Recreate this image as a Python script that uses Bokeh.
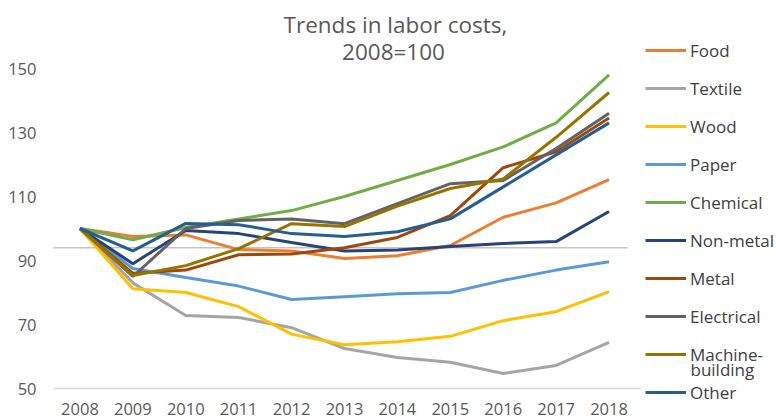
from bokeh.plotting import figure
from bokeh.models import Range1d, FixedTicker, Legend, LegendItem, Label
from bokeh.embed import file_html
from bokeh.resources import INLINE

# ---- data ----
years = [2008, 2009, 2010, 2011, 2012, 2013, 2014, 2015, 2016, 2017, 2018]
year_labels = ["2008", "2009", "2010", "2011", "2012", "2013", "2014", "2015", "2016", "2017", "2018"]
y_ticks = [50, 70, 90, 110, 130, 150]
ref_level = 94

food = [100, 97.5, 98, 93.4, 93, 90.6, 91.5, 94.7, 103.5, 108, 115.3]
textile = [100, 83, 72.8, 72.2, 69, 62.5, 59.7, 58.2, 54.7, 57.2, 64.4]
wood = [100, 81.2, 80, 75.6, 67, 63.7, 64.6, 66.3, 71.2, 74, 80.3]
paper = [100, 87.5, 84.7, 82, 77.8, 78.7, 79.6, 80, 83.8, 87, 89.6]
chemical = [100, 96.5, 100.3, 103, 105.6, 110, 115, 120, 125.5, 133, 148]
non_metal = [100, 89, 99.4, 98.4, 95.6, 93, 93.3, 94.4, 95.3, 95.9, 105.3]
metal = [100, 86, 87, 91.8, 92, 94, 97.2, 104, 119, 124, 134.5]
electrical = [100, 85, 100, 102.5, 103, 101.5, 107.8, 114, 115, 125, 136]
machine_building = [100, 85.3, 88.4, 93.7, 101.5, 100.6, 107, 112.5, 115.5, 128.5, 142.5]
other = [100, 93, 101.6, 101.2, 98.4, 97.5, 99, 103, 113, 123, 133]

series_names = ["Food", "Textile", "Wood", "Paper", "Chemical", "Non-metal",
                "Metal", "Electrical", "Machine-", "Other"]
series_values = [food, textile, wood, paper, chemical, non_metal,
                 metal, electrical, machine_building, other]
series_colors = ["#ED7D31", "#A5A5A5", "#FFC000", "#5B9BD5", "#70AD47", "#264478",
                 "#9E480E", "#636363", "#997300", "#255E91"]

FONT = "Open Sans"
TXT = "#595959"
LEG_TXT = "#404040"

# ---- layout (pixels) ----
W, H = 776, 418
LEFT = 53
AXIS_Y = 388          # pixel row of the value 50 baseline
px_per_year = 582 / len(years)
px_per_unit = 3.2
frame_w = W - LEFT

x_start = years[0] - 0.5
x_end = x_start + frame_w / px_per_year
y_start = y_ticks[0] - (H - AXIS_Y) / px_per_unit
y_end = y_ticks[0] + AXIS_Y / px_per_unit

p = figure(width=W, height=H, output_backend="svg", toolbar_location=None,
           x_range=Range1d(x_start, x_end), y_range=Range1d(y_start, y_end),
           min_border_left=LEFT, min_border_right=0, min_border_top=0,
           min_border_bottom=0)
p.title.visible = False
p.xgrid.visible = False
p.ygrid.visible = False
p.outline_line_color = None

p.yaxis.ticker = FixedTicker(ticks=y_ticks)
p.yaxis.axis_line_color = None
p.yaxis.major_tick_line_color = None
p.yaxis.minor_tick_line_color = None
p.yaxis.major_tick_out = 0
p.yaxis.major_tick_in = 0
p.yaxis.major_label_standoff = 17
p.yaxis.major_label_text_font = FONT
p.yaxis.major_label_text_font_size = "16.5px"
p.yaxis.major_label_text_color = TXT

p.xaxis.fixed_location = y_ticks[0]
p.xaxis.ticker = FixedTicker(ticks=years)
p.xaxis.major_label_overrides = {y: s for y, s in zip(years, year_labels)}
p.xaxis.axis_line_color = None
p.xaxis.major_tick_line_color = None
p.xaxis.minor_tick_line_color = None
p.xaxis.major_tick_out = 0
p.xaxis.major_tick_in = 0
p.xaxis.major_label_standoff = 14
p.xaxis.major_label_text_font = FONT
p.xaxis.major_label_text_font_size = "16.5px"
p.xaxis.major_label_text_color = TXT

# bottom axis line and the horizontal reference line
p.segment(x0=[years[0] - 0.52], y0=[y_ticks[0]], x1=[years[-1] + 0.6], y1=[y_ticks[0]],
          line_color="#D9D9D9", line_width=1.5)
p.segment(x0=[years[0] - 0.53], y0=[ref_level], x1=[years[-1] + 0.35], y1=[ref_level],
          line_color="#C4C4C4", line_width=1.5)

items = []
for name, vals, col in zip(series_names, series_values, series_colors):
    r = p.line(years, vals, line_color=col, line_width=3)
    items.append(LegendItem(label=name, renderers=[r]))

legend = Legend(items=items, location=(592, 14), orientation="vertical",
                glyph_width=41, glyph_height=24, label_height=24, spacing=14,
                label_standoff=4, padding=0, margin=0, border_line_color=None,
                background_fill_alpha=0, label_text_font=FONT,
                label_text_font_size="17px", label_text_color=LEG_TXT)
p.add_layout(legend)

p.add_layout(Label(x=637, y=49, x_units="screen", y_units="screen", text="building",
                   text_baseline="middle", text_align="left", text_font=FONT,
                   text_font_size="17px", text_color=LEG_TXT))

p.add_layout(Label(x=342, y=394, x_units="screen", y_units="screen",
                   text="Trends in labor costs,", text_align="center", text_baseline="middle",
                   text_font=FONT, text_font_size="22.5px", text_color=TXT))
p.add_layout(Label(x=340, y=367, x_units="screen", y_units="screen",
                   text="2008=100", text_align="center", text_baseline="middle",
                   text_font=FONT, text_font_size="22.5px", text_color=TXT))

open("out.html", "w").write(file_html(p, INLINE))
